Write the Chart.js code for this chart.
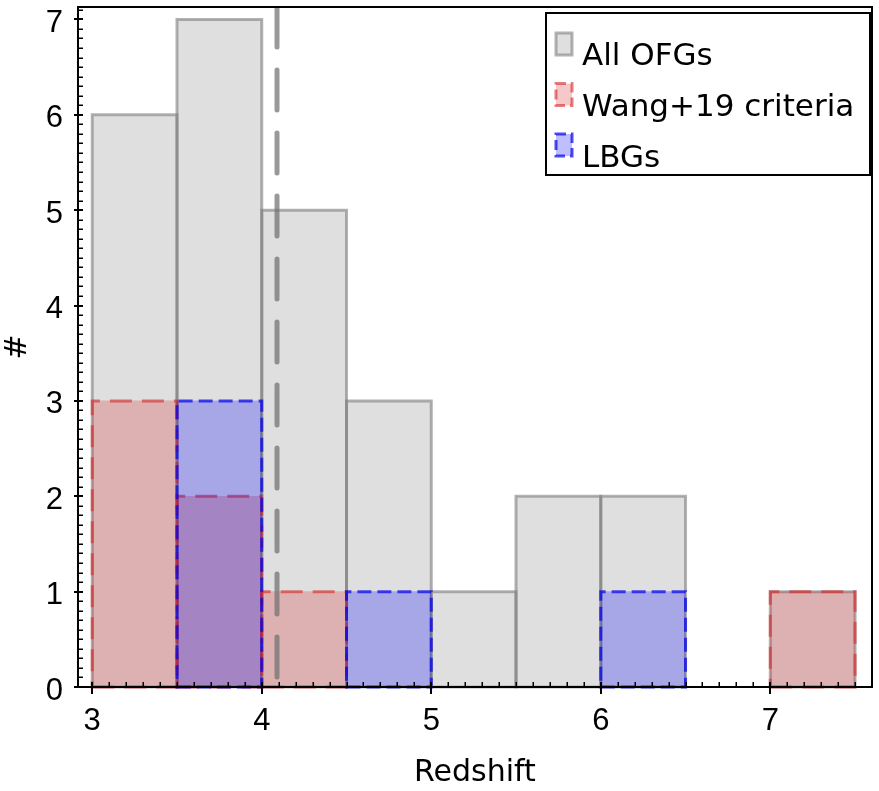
<!DOCTYPE html>
<html>
<head>
<meta charset="utf-8">
<script src="https://cdn.jsdelivr.net/npm/chart.js@4/dist/chart.umd.min.js"></script>
<style>
  html, body { margin: 0; padding: 0; background: #fff; }
  #wrap { width: 879px; height: 791px; position: relative; }
</style>
</head>
<body>
<div id="wrap"><canvas id="c"></canvas></div>
<script>
// ---- data ----
const binCenters = [3.25, 3.75, 4.25, 4.75, 5.25, 5.75, 6.25, 6.75, 7.25];
const allOFGs    = [6, 7, 5, 3, 1, 2, 2, 0, 1];
const wang19     = [3, 2, 1, 0, 0, 0, 0, 0, 1];
const lbgs       = [0, 3, 0, 1, 0, 0, 1, 0, 0];
const seriesLabels = ['All OFGs', 'Wang+19 criteria', 'LBGs'];
const xTicks = [3, 4, 5, 6, 7];
const yTicks = [0, 1, 2, 3, 4, 5, 6, 7];
const vLineX = 4.09;

// ---- styles ----
const styles = [
  { fill: 'rgba(128,128,128,0.25)', edge: 'rgba(128,128,128,0.6)', dash: [] },
  { fill: 'rgba(214,39,40,0.25)',   edge: 'rgba(214,39,40,0.6)',   dash: [22, 10] },
  { fill: 'rgba(0,0,255,0.25)',     edge: 'rgba(0,0,235,0.7)',     dash: [14, 6] }
];

function toPoints(vals) { return binCenters.map((c, i) => ({ x: c, y: vals[i] })); }

const seriesValues = [allOFGs, wang19, lbgs];
const datasets = seriesValues.map((vals, i) => ({
  label: seriesLabels[i],
  data: toPoints(vals),
  backgroundColor: styles[i].fill,
  borderWidth: 0,
  grouped: false,
  barPercentage: 1,
  categoryPercentage: 1,
  order: 3 - i,
  edgeStyle: i
}));

const edgePlugin = {
  id: 'edges',
  afterDatasetDraw(chart, args) {
    const ds = chart.data.datasets[args.index];
    const st = styles[ds.edgeStyle];
    const ctx = chart.ctx;
    ctx.save();
    ctx.strokeStyle = st.edge;
    ctx.lineWidth = 3;
    ctx.setLineDash(st.dash);
    args.meta.data.forEach((el, j) => {
      if (!ds.data[j].y) return;
      const p = el.getProps(['x', 'y', 'base', 'width'], true);
      const x0 = p.x - p.width / 2, x1 = p.x + p.width / 2;
      ctx.beginPath();
      ctx.moveTo(x0, p.base);
      ctx.lineTo(x1, p.base);
      ctx.lineTo(x1, p.y);
      ctx.lineTo(x0, p.y);
      ctx.closePath();
      ctx.stroke();
    });
    ctx.restore();
  }
};

const decoPlugin = {
  id: 'deco',
  afterDatasetsDraw(chart) {
    const { ctx, chartArea: a, scales: { x } } = chart;
    ctx.save();
    ctx.beginPath();
    ctx.rect(a.left, a.top, a.right - a.left, a.bottom - a.top);
    ctx.clip();
    const px = x.getPixelForValue(vLineX);
    ctx.strokeStyle = 'rgba(110,110,110,0.7)';
    ctx.lineWidth = 5;
    ctx.lineCap = 'round';
    ctx.setLineDash([40, 23]);
    ctx.beginPath();
    ctx.moveTo(px, a.top);
    ctx.lineTo(px, a.bottom);
    ctx.stroke();
    ctx.restore();
  },
  afterDraw(chart) {
    const { ctx, chartArea: a, scales: { x, y } } = chart;
    ctx.save();
    ctx.strokeStyle = '#000';
    ctx.lineWidth = 1.5;
    for (let k = Math.ceil(x.min * 10); k <= Math.floor(x.max * 10); k++) {
      if (k % 10 === 0) continue;
      const px = Math.round(x.getPixelForValue(k / 10)) + 0.25;
      ctx.beginPath(); ctx.moveTo(px, a.bottom); ctx.lineTo(px, a.bottom - 5); ctx.stroke();
    }
    for (let k = Math.ceil(y.min * 10); k <= Math.floor(y.max * 10); k++) {
      if (k % 10 === 0) continue;
      const py = Math.round(y.getPixelForValue(k / 10)) + 0.25;
      ctx.beginPath(); ctx.moveTo(a.left, py); ctx.lineTo(a.left + 5, py); ctx.stroke();
    }
    ctx.lineWidth = 2;
    xTicks.forEach(v => {
      const px = Math.round(x.getPixelForValue(v));
      ctx.beginPath(); ctx.moveTo(px, a.bottom + 7); ctx.lineTo(px, a.bottom - 5); ctx.stroke();
    });
    yTicks.forEach(v => {
      const py = Math.round(y.getPixelForValue(v));
      ctx.beginPath(); ctx.moveTo(a.left - 4, py); ctx.lineTo(a.left + 5, py); ctx.stroke();
    });
    ctx.lineWidth = 2;
    ctx.strokeRect(a.left, a.top, a.right - a.left, a.bottom - a.top);

    // legend
    const L = { x: 546, y: 13, w: 324, h: 162 };
    ctx.fillStyle = '#fff';
    ctx.fillRect(L.x, L.y, L.w, L.h);
    ctx.strokeStyle = '#000';
    ctx.lineWidth = 2;
    ctx.strokeRect(L.x, L.y, L.w, L.h);
    ctx.font = '31px "DejaVu Sans"';
    ctx.textBaseline = 'alphabetic';
    chart.data.datasets.forEach((ds, i) => {
      const st = styles[ds.edgeStyle];
      const by = 33 + i * 50.5;
      ctx.fillStyle = st.fill;
      ctx.fillRect(556, by, 16, 22);
      ctx.strokeStyle = st.edge;
      ctx.lineWidth = 3;
      ctx.setLineDash(st.dash.length ? [10, 5] : []);
      ctx.strokeRect(556, by, 16, 22);
      ctx.setLineDash([]);
      ctx.fillStyle = '#000';
      ctx.fillText(ds.label, 582, 65 + i * 51);
    });
    ctx.restore();
  }
};

new Chart(document.getElementById('c'), {
  type: 'bar',
  data: { datasets },
  options: {
    responsive: true,
    maintainAspectRatio: false,
    animation: false,
    layout: { padding: { top: 7, right: 7, left: 0, bottom: 0 } },
    plugins: { legend: { display: false }, tooltip: { enabled: false } },
    scales: {
      x: {
        type: 'linear',
        min: 2.916,
        max: 7.6,
        offset: false,
        grid: { display: false, drawTicks: false, offset: false },
        border: { display: false },
        afterBuildTicks: s => { s.ticks = xTicks.map(v => ({ value: v })); },
        afterFit: s => { s.height = 104; s.paddingLeft = 0; s.paddingRight = 0; },
        ticks: {
          color: '#000',
          padding: 16,
          maxRotation: 0,
          autoSkip: false,
          font: { family: '"Liberation Sans", Arial, sans-serif', size: 31 }
        },
        title: {
          display: true,
          text: 'Redshift',
          color: '#000',
          padding: 0,
          font: { family: '"DejaVu Sans", sans-serif', size: 30 }
        }
      },
      y: {
        type: 'linear',
        min: 0,
        max: 7.13,
        grid: { display: false, drawTicks: false },
        border: { display: false },
        afterBuildTicks: s => { s.ticks = yTicks.map(v => ({ value: v })); },
        afterFit: s => { s.width = 78; s.paddingTop = 0; s.paddingBottom = 0; },
        ticks: {
          color: '#000',
          padding: 15,
          labelOffset: 4,
          autoSkip: false,
          font: { family: '"Liberation Sans", Arial, sans-serif', size: 31 }
        },
        title: {
          display: true,
          text: '#',
          color: '#000',
          padding: 0,
          font: { family: '"DejaVu Sans", sans-serif', size: 30 }
        }
      }
    }
  },
  plugins: [edgePlugin, decoPlugin]
});
</script>
</body>
</html>
